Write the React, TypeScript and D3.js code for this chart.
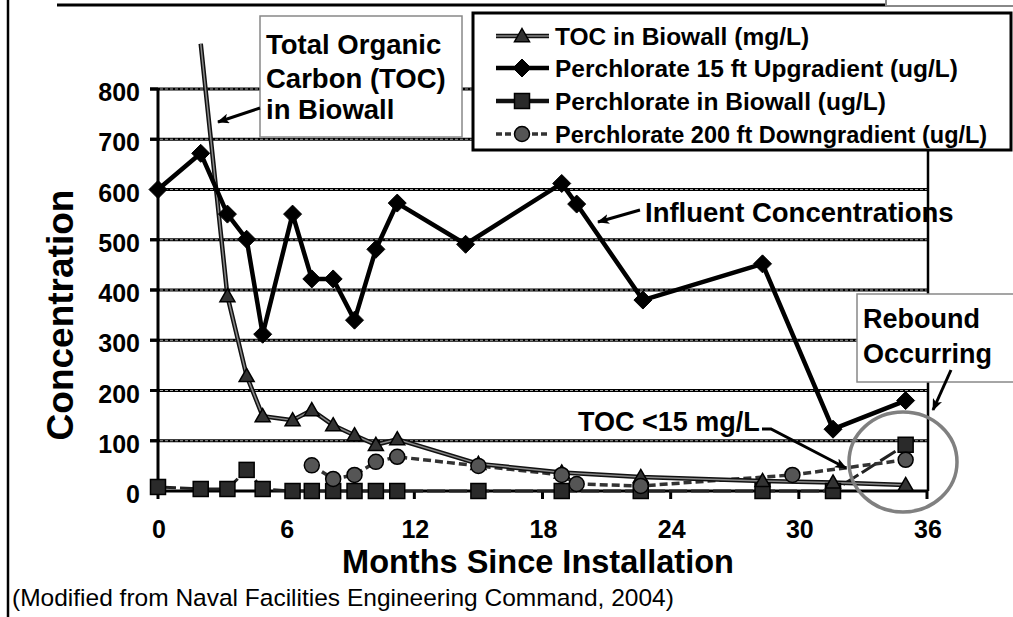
import React from "react";
import * as d3 from "d3";

// ---------- data ----------
const tocMonths = [2.0, 3.25, 4.15, 4.9, 6.3, 7.2, 8.2, 9.2, 10.2, 11.2, 15.0, 18.9, 22.6, 28.3, 31.6, 35.0];
const tocValues = [890, 388, 229, 149, 141, 161, 131, 111, 92, 103, 54, 37, 28, 20, 17, 12];

const upMonths = [0, 2.0, 3.25, 4.15, 4.9, 6.3, 7.2, 8.2, 9.2, 10.2, 11.2, 14.4, 18.9, 19.6, 22.7, 28.3, 31.6, 35.0];
const upValues = [600, 672, 551, 501, 312, 551, 422, 422, 340, 481, 573, 491, 612, 571, 380, 452, 123, 180];

const bioMonths = [0, 2.0, 3.25, 4.15, 4.9, 6.3, 7.2, 8.2, 9.2, 10.2, 11.2, 15.0, 18.9, 22.6, 28.3, 31.6, 35.0];
const bioValues = [8, 4, 4, 42, 4, 0, 0, 0, 0, 0, 0, 0, 0, 0, 0, 0, 92];

const downMonths = [7.2, 8.2, 9.2, 10.2, 11.2, 15.0, 18.9, 19.6, 22.6, 29.7, 35.0];
const downValues = [51, 24, 32, 58, 68, 50, 32, 14, 10, 32, 62];

const xTicks = [0, 6, 12, 18, 24, 30, 36];
const yTicks = [0, 100, 200, 300, 400, 500, 600, 700, 800];

const legendLabels = [
  "TOC in Biowall (mg/L)",
  "Perchlorate 15 ft Upgradient (ug/L)",
  "Perchlorate in Biowall (ug/L)",
  "Perchlorate 200 ft Downgradient (ug/L)",
];

const FONT = "'Liberation Sans', Arial, Helvetica, sans-serif";

type Pt = [number, number];
const zip = (xs: number[], ys: number[]): Pt[] => xs.map((x, i) => [x, ys[i]]);

export default function App() {
  const W = 1013;
  const H = 617;
  const x = d3.scaleLinear().domain([0, 36]).range([158, 927]);
  const y = d3.scaleLinear().domain([0, 800]).range([491, 89]);
  const line = d3
    .line<Pt>()
    .x((d) => x(d[0]))
    .y((d) => y(d[1]));

  const toc = zip(tocMonths, tocValues);
  const up = zip(upMonths, upValues);
  const bio = zip(bioMonths, bioValues);
  const down = zip(downMonths, downValues);

  const tri = (cx: number, cy: number, s = 7.5) =>
    `M${cx},${cy - s} L${cx + s},${cy + s * 0.75} L${cx - s},${cy + s * 0.75} Z`;
  const diamond = (cx: number, cy: number, s = 9) =>
    `M${cx},${cy - s} L${cx + s},${cy} L${cx},${cy + s} L${cx - s},${cy} Z`;

  const drawTri = (cx: number, cy: number, k: string) => (
    <path key={k} d={tri(cx, cy)} fill="#333" stroke="#000" strokeWidth={1.5} />
  );
  const drawDia = (cx: number, cy: number, k: string) => (
    <path key={k} d={diamond(cx, cy)} fill="#000" stroke="#000" strokeWidth={1} />
  );
  const drawSq = (cx: number, cy: number, k: string) => (
    <rect key={k} x={cx - 7.5} y={cy - 7.5} width={15} height={15} fill="#2a2a2a" stroke="#000" strokeWidth={1.5} />
  );
  const drawCirc = (cx: number, cy: number, k: string) => (
    <circle key={k} cx={cx} cy={cy} r={7.5} fill="#555" stroke="#000" strokeWidth={1.5} />
  );

  const legendX = 473;
  const legendRows = [36, 68, 101, 134];

  return (
    <div style={{ position: "absolute", left: 0, top: 0 }}>
      <svg width={W} height={H} style={{ display: "block", fontFamily: FONT }}>
        <defs>
          <marker id="ah" viewBox="0 0 12 10" refX="11" refY="5" markerWidth="12" markerHeight="10" markerUnits="userSpaceOnUse" orient="auto">
            <path d="M0,0 L12,5 L0,10 L3,5 Z" fill="#000" />
          </marker>
        </defs>
        <rect x={0} y={0} width={W} height={H} fill="#fff" />

        {/* outer frame pieces */}
        <line x1={8} y1={0} x2={8} y2={H} stroke="#000" strokeWidth={2.5} />
        <line x1={57} y1={5} x2={885} y2={5} stroke="#000" strokeWidth={3} />
        <polyline points="886,0 886,6 1013,6" fill="none" stroke="#888" strokeWidth={2} />

        {/* gridlines */}
        {yTicks.filter((t) => t > 0).map((t) => (
          <g key={"g" + t}>
            <line x1={150} x2={928} y1={y(t)} y2={y(t)} stroke="#000" strokeWidth={3} />
            <line x1={150} x2={928} y1={y(t)} y2={y(t)} stroke="#fff" strokeWidth={0.8} strokeDasharray="3,2" opacity={0.8} />
          </g>
        ))}
        {/* right border */}
        <line x1={928} x2={928} y1={y(800)} y2={y(0)} stroke="#000" strokeWidth={2.5} />
        {/* y axis */}
        <line x1={158} x2={158} y1={y(800) - 1} y2={y(0)} stroke="#000" strokeWidth={3} />
        {yTicks.map((t) => (
          <g key={"yt" + t}>
            <line x1={150} x2={158} y1={y(t)} y2={y(t)} stroke="#000" strokeWidth={3} />
            <text x={140} y={y(t) + 12} textAnchor="end" fontSize={25} fontWeight="bold">
              {t}
            </text>
          </g>
        ))}
        {/* x axis */}
        <line x1={150} x2={928} y1={y(0)} y2={y(0)} stroke="#000" strokeWidth={3} />
        {xTicks.map((t) => (
          <g key={"xt" + t}>
            <line x1={x(t)} x2={x(t)} y1={y(0)} y2={y(0) + 8} stroke="#000" strokeWidth={3} />
            <text x={x(t) + 1} y={538} textAnchor="middle" fontSize={25} fontWeight="bold">
              {t}
            </text>
          </g>
        ))}

        {/* series: Perchlorate in Biowall */}
        <path d={line(bio) || ""} fill="none" stroke="#222" strokeWidth={3} strokeDasharray="18,4" />
        {/* series: Downgradient */}
        <path d={line(down) || ""} fill="none" stroke="#333" strokeWidth={3.5} strokeDasharray="8,4" />
        {/* series: TOC */}
        <path d={line(toc) || ""} fill="none" stroke="#111" strokeWidth={4.5} />
        <path d={line(toc) || ""} fill="none" stroke="#888" strokeWidth={1.5} />
        {/* series: Upgradient */}
        <path d={line(up) || ""} fill="none" stroke="#000" strokeWidth={4.5} strokeLinejoin="round" />

        {bio.map((d, i) => drawSq(x(d[0]), y(d[1]), "bs" + i))}
        {toc.filter((d) => d[1] <= 800).map((d, i) => drawTri(x(d[0]), y(d[1]), "ts" + i))}
        {down.map((d, i) => drawCirc(x(d[0]), y(d[1]), "dc" + i))}
        {up.map((d, i) => drawDia(x(d[0]), y(d[1]), "ud" + i))}

        {/* axis titles */}
        <text transform="translate(73,315) rotate(-90)" textAnchor="middle" fontSize={37} fontWeight="bold">
          Concentration
        </text>
        <text x={538} y={573} textAnchor="middle" fontSize={32.5} fontWeight="bold">
          Months Since Installation
        </text>
        <text x={12} y={606} fontSize={24.5}>
          (Modified from Naval Facilities Engineering Command, 2004)
        </text>

        {/* TOC annotation box */}
        <rect x={260} y={16} width={202} height={121} fill="#fff" stroke="#888" strokeWidth={1.5} />
        <text fontSize={27.5} fontWeight="bold">
          <tspan x={266} y={54}>Total Organic</tspan>
          <tspan x={266} y={88}>Carbon (TOC)</tspan>
          <tspan x={266} y={119}>in Biowall</tspan>
        </text>
        <line x1={260} y1={108} x2={218} y2={122} stroke="#000" strokeWidth={3} markerEnd="url(#ah)" />

        {/* Influent annotation */}
        <text x={645} y={222} fontSize={27.5} fontWeight="bold">
          Influent Concentrations
        </text>
        <line x1={640} y1={210} x2={598} y2={222} stroke="#000" strokeWidth={3} markerEnd="url(#ah)" />

        {/* TOC <15 annotation */}
        <text x={578} y={431} fontSize={27} fontWeight="bold">
          TOC &lt;15 mg/L
        </text>
        <polyline points="762,429 771,429 846,468" fill="none" stroke="#000" strokeWidth={3} markerEnd="url(#ah)" />

        {/* Rebound circle */}
        <ellipse cx={903} cy={462} rx={54} ry={50} fill="none" stroke="#808080" strokeWidth={3.5} />

        {/* Rebound box */}
        <rect x={857} y={294} width={160} height={88} fill="#fff" stroke="#888" strokeWidth={1.5} />
        <text fontSize={27} fontWeight="bold">
          <tspan x={863} y={328}>Rebound</tspan>
          <tspan x={863} y={363}>Occurring</tspan>
        </text>
        <line x1={951} y1={370} x2={933} y2={410} stroke="#000" strokeWidth={3} markerEnd="url(#ah)" />

        {/* legend */}
        <rect x={legendX} y={13} width={538} height={137} fill="#fff" stroke="#000" strokeWidth={3} />
        {legendRows.map((ry, i) => (
          <g key={"lg" + i}>
            {i === 0 && (
              <>
                <line x1={496} x2={549} y1={ry} y2={ry} stroke="#111" strokeWidth={4.5} />
                <line x1={496} x2={549} y1={ry} y2={ry} stroke="#888" strokeWidth={1.5} />
                {drawTri(522, ry, "lt")}
              </>
            )}
            {i === 1 && (
              <>
                <line x1={496} x2={549} y1={ry} y2={ry} stroke="#000" strokeWidth={4.5} />
                {drawDia(522, ry, "ld")}
              </>
            )}
            {i === 2 && (
              <>
                <line x1={496} x2={549} y1={ry} y2={ry} stroke="#111" strokeWidth={4.5} />
                {drawSq(522, ry, "ls")}
              </>
            )}
            {i === 3 && (
              <>
                <line x1={496} x2={549} y1={ry} y2={ry} stroke="#333" strokeWidth={3.5} strokeDasharray="6,3" />
                {drawCirc(522, ry, "lc")}
              </>
            )}
            <text x={555} y={ry + 9} fontSize={i === 3 ? 23.5 : 24.5} fontWeight="bold">
              {legendLabels[i]}
            </text>
          </g>
        ))}
      </svg>
    </div>
  );
}
